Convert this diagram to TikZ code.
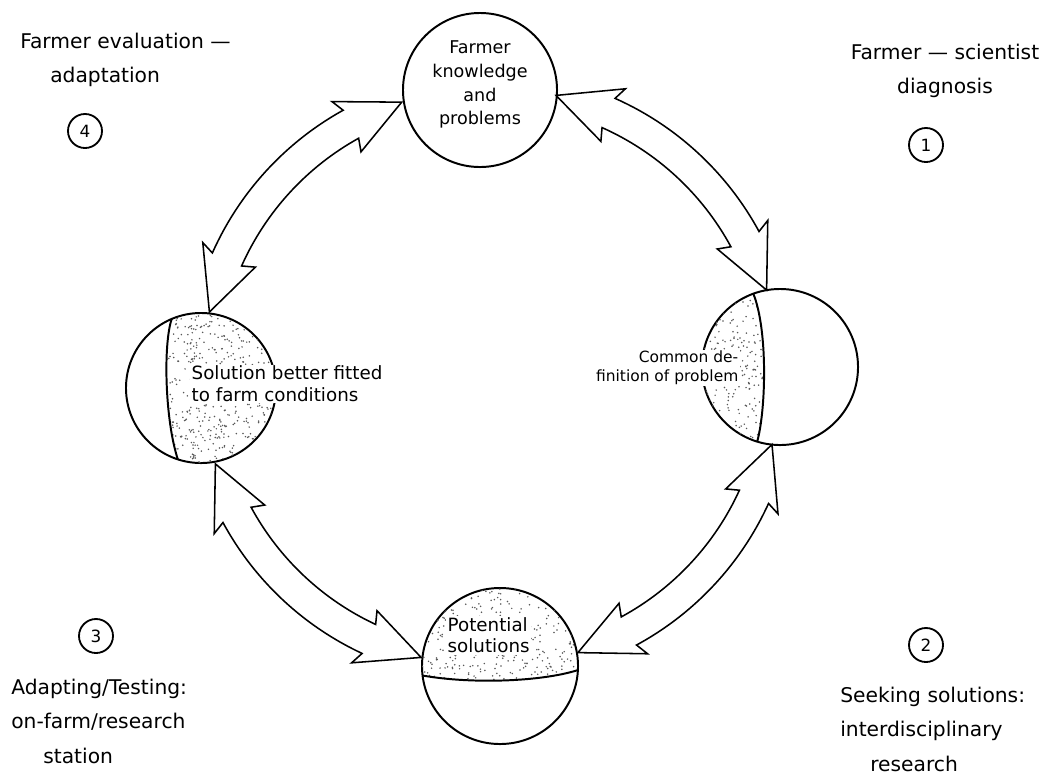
\documentclass[tikz,border=0pt]{standalone}
\usepackage{fontspec}
\setmainfont{DejaVu Sans}
\usetikzlibrary{calc}
\tikzset{disc/.style = {circle, draw, line width=1.4pt, inner sep=0pt,
    outer sep=0pt},
  divider/.style = {line width=1.4pt},
  cycarrow/.style = {draw, line width=1.1pt, fill=white, line join=miter},
  numcirc/.style = {circle, draw, line width=1.3pt, minimum size=0.85cm,
    inner sep=0pt, font=\fontsize{12}{12}\selectfont},
  stagetext/.style = {inner sep=0pt, font=\fontsize{14.4}{24.5}\selectfont},
  disctext/.style = {inner sep=0pt, font=\fontsize{13}{15.5}\selectfont},
  stipdot/.style = {black!65}}
% двойная дуговая стрелка вокруг (ring): #1, #2 -- углы концов
\newcommand{\cyclearrow}[2]{%
  \draw[cycarrow] ($(ring)+(#1:289)$)
    -- ($(ring)+({#1+12}:318)$) -- ($(ring)+({#1+11}:305)$)
    arc[start angle={#1+11}, end angle={#2-11}, radius=305]
    -- ($(ring)+({#2-12}:318)$) -- ($(ring)+(#2:289)$)
    -- ($(ring)+({#2-12}:260)$) -- ($(ring)+({#2-11}:273)$)
    arc[start angle={#2-11}, end angle={#1+11}, radius=273]
    -- ($(ring)+({#1+12}:260)$) -- cycle;}
% крапинки вокруг узла #1 в квадрате полуширины #2
\newcommand{\stipple}[2]{%
  \foreach \k in {1,...,650}
    \fill[stipdot] ($(#1)+(rand*#2,rand*#2)$) circle (0.85);}

\begin{document}
\begin{tikzpicture}[x=0.025cm, y=0.025cm]
    \useasboundingbox (0,0) rectangle (1046,-778);
    \pgfmathsetseed{17}
    \coordinate (ring) at (491,-377);
    \node[disc, minimum size=3.85cm] (know) at (480,-90) {};
    \node[disc, minimum size=3.9cm] (defn) at (780,-367) {};
    \node[disc, minimum size=3.9cm] (pot) at (500,-666) {};
    \node[disc, minimum size=3.75cm] (fit) at (201,-388) {};
    % заштрихованные части
    \begin{scope}
      \clip (fit.113) .. controls (163,-345) and (165,-420) .. (fit.252)
        arc[start angle=252, end angle=473, radius=75] -- cycle;
      \stipple{fit}{75}
    \end{scope}
    \begin{scope}
      \clip (defn.110) arc[start angle=110, end angle=253, radius=78]
        .. controls (766,-410) and (768,-330) .. (defn.110);
      \stipple{defn}{78}
    \end{scope}
    \begin{scope}
      \clip (pot.357) arc[start angle=-3, end angle=187, radius=78]
        .. controls (470,-684) and (540,-682) .. (pot.357);
      \stipple{pot}{78}
    \end{scope}
    \draw[divider] (fit.113) .. controls (163,-345) and (165,-420) .. (fit.252);
    \draw[divider] (defn.110) .. controls (768,-330) and (766,-410) .. (defn.253);
    \draw[divider] (pot.187) .. controls (470,-684) and (540,-682) .. (pot.357);
    % стрелки
    \cyclearrow{108}{167}
    \cyclearrow{17.5}{77}
    \cyclearrow{-72.5}{-13.5}
    \cyclearrow{197.5}{256}
    % тексты в кругах
    \node[disctext, align=center, font=\fontsize{12.5}{17}\selectfont]
      (knowtxt) at (480,-84.5) {Farmer\\knowledge\\and\\problems};
    \node[disctext, align=left, fill=white, inner sep=1pt, anchor=west]
      (fittxt) at (190,-384) {Solution better fitted\\to farm conditions};
    \node[disctext, align=right, fill=white, inner sep=1pt, anchor=east,
      font=\fontsize{11}{13.5}\selectfont]
      (defntxt) at (740,-368) {Common de-\\finition of problem};
    \node[disctext, align=left, fill=white, inner sep=1pt, anchor=west,
      font=\fontsize{13}{15}\selectfont]
      (pottxt) at (446,-635.5) {Potential\\solutions};
    % этапы
    \node[stagetext, anchor=west, align=left] (evaltxt) at (20,-60)
      {Farmer evaluation ---\\\hspace*{0.75cm}adaptation};
    \node[numcirc] (n4) at (85,-131) {4};
    \node[stagetext, align=center] (diagtxt) at (945,-71)
      {Farmer --- scientist\\diagnosis};
    \node[numcirc] (n1) at (926,-145) {1};
    \node[numcirc] (n3) at (96,-636) {3};
    \node[stagetext, anchor=west, align=left] (testtxt) at (11,-721)
      {Adapting/Testing:\\on-farm/research\\\hspace*{0.8cm}station};
    \node[numcirc] (n2) at (926,-645) {2};
    \node[stagetext, anchor=west, align=left] (seektxt) at (840,-729)
      {Seeking solutions:\\interdisciplinary\\\hspace*{0.75cm}research};
\end{tikzpicture}
\end{document}
